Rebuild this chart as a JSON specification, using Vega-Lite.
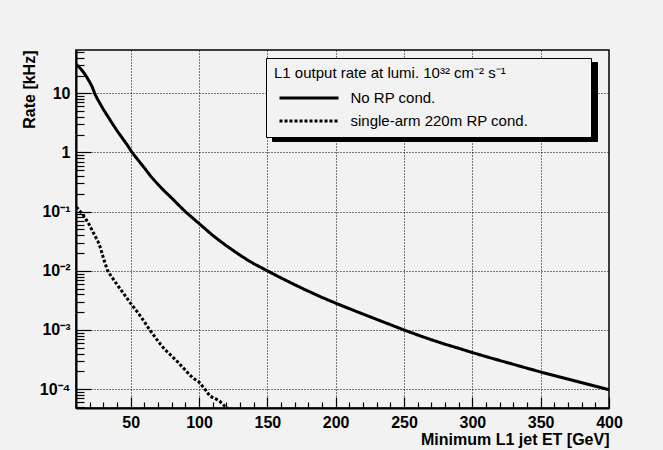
{
  "$schema": "https://vega.github.io/schema/vega-lite/v6.json",
  "width": 533,
  "height": 358,
  "autosize": {"type": "none"},
  "padding": {"left": 76, "top": 50, "right": 54, "bottom": 42},
  "background": "#f2f2f2",
  "config": {
    "font": "Liberation Sans",
    "view": {"stroke": "black", "strokeWidth": 1.5, "fill": null},
    "axis": {
      "domainColor": "black",
      "domainWidth": 2,
      "tickColor": "black",
      "tickWidth": 1.2,
      "gridColor": "black",
      "gridDash": [1, 2],
      "gridWidth": 1,
      "labelColor": "black",
      "labelFont": "Liberation Sans",
      "labelFontWeight": "bold",
      "labelFontSize": 16,
      "titleColor": "black",
      "titleFont": "Liberation Sans",
      "titleFontWeight": "bold",
      "titleFontSize": 16,
      "labelOverlap": false,
      "labelFlush": false
    },
    "legend": {
      "titleFont": "Liberation Sans",
      "titleFontWeight": "normal",
      "titleFontSize": 15,
      "titleColor": "black",
      "titlePadding": 8,
      "titleLimit": 600,
      "labelFont": "Liberation Sans",
      "labelFontSize": 15,
      "labelColor": "black",
      "labelLimit": 600,
      "labelOffset": 32.5,
      "symbolType": "M-4,0H4",
      "symbolSize": 217.6,
      "symbolOffset": 26,
      "symbolStrokeWidth": 3,
      "symbolStrokeColor": "black",
      "symbolFillColor": "transparent",
      "rowPadding": 6,
      "padding": 8
    }
  },
  "data": {
    "values": [
      {"et": 10, "rate": 30.9, "series": "No RP cond."},
      {"et": 12, "rate": 28.2, "series": "No RP cond."},
      {"et": 14, "rate": 25.1, "series": "No RP cond."},
      {"et": 16, "rate": 21.9, "series": "No RP cond."},
      {"et": 18, "rate": 18.6, "series": "No RP cond."},
      {"et": 20, "rate": 15.5, "series": "No RP cond."},
      {"et": 22, "rate": 12.6, "series": "No RP cond."},
      {"et": 24, "rate": 9.55, "series": "No RP cond."},
      {"et": 26, "rate": 7.76, "series": "No RP cond."},
      {"et": 28, "rate": 6.46, "series": "No RP cond."},
      {"et": 30, "rate": 5.37, "series": "No RP cond."},
      {"et": 33, "rate": 4.17, "series": "No RP cond."},
      {"et": 36, "rate": 3.24, "series": "No RP cond."},
      {"et": 40, "rate": 2.34, "series": "No RP cond."},
      {"et": 44, "rate": 1.74, "series": "No RP cond."},
      {"et": 48, "rate": 1.29, "series": "No RP cond."},
      {"et": 51, "rate": 1.0, "series": "No RP cond."},
      {"et": 55, "rate": 0.767, "series": "No RP cond."},
      {"et": 60, "rate": 0.55, "series": "No RP cond."},
      {"et": 65, "rate": 0.389, "series": "No RP cond."},
      {"et": 70, "rate": 0.288, "series": "No RP cond."},
      {"et": 75, "rate": 0.219, "series": "No RP cond."},
      {"et": 80, "rate": 0.17, "series": "No RP cond."},
      {"et": 85, "rate": 0.13, "series": "No RP cond."},
      {"et": 90, "rate": 0.1, "series": "No RP cond."},
      {"et": 95, "rate": 0.0794, "series": "No RP cond."},
      {"et": 100, "rate": 0.0631, "series": "No RP cond."},
      {"et": 105, "rate": 0.0501, "series": "No RP cond."},
      {"et": 110, "rate": 0.0398, "series": "No RP cond."},
      {"et": 115, "rate": 0.0324, "series": "No RP cond."},
      {"et": 120, "rate": 0.0266, "series": "No RP cond."},
      {"et": 125, "rate": 0.0221, "series": "No RP cond."},
      {"et": 130, "rate": 0.0184, "series": "No RP cond."},
      {"et": 135, "rate": 0.0155, "series": "No RP cond."},
      {"et": 140, "rate": 0.0132, "series": "No RP cond."},
      {"et": 145, "rate": 0.0115, "series": "No RP cond."},
      {"et": 150, "rate": 0.01, "series": "No RP cond."},
      {"et": 160, "rate": 0.00759, "series": "No RP cond."},
      {"et": 170, "rate": 0.00582, "series": "No RP cond."},
      {"et": 180, "rate": 0.00452, "series": "No RP cond."},
      {"et": 190, "rate": 0.00355, "series": "No RP cond."},
      {"et": 200, "rate": 0.00284, "series": "No RP cond."},
      {"et": 210, "rate": 0.00229, "series": "No RP cond."},
      {"et": 220, "rate": 0.00186, "series": "No RP cond."},
      {"et": 230, "rate": 0.00151, "series": "No RP cond."},
      {"et": 240, "rate": 0.00123, "series": "No RP cond."},
      {"et": 250, "rate": 0.001, "series": "No RP cond."},
      {"et": 260, "rate": 0.000822, "series": "No RP cond."},
      {"et": 270, "rate": 0.000684, "series": "No RP cond."},
      {"et": 280, "rate": 0.000575, "series": "No RP cond."},
      {"et": 290, "rate": 0.00049, "series": "No RP cond."},
      {"et": 300, "rate": 0.000415, "series": "No RP cond."},
      {"et": 310, "rate": 0.000355, "series": "No RP cond."},
      {"et": 320, "rate": 0.000305, "series": "No RP cond."},
      {"et": 330, "rate": 0.000263, "series": "No RP cond."},
      {"et": 340, "rate": 0.000226, "series": "No RP cond."},
      {"et": 350, "rate": 0.000195, "series": "No RP cond."},
      {"et": 360, "rate": 0.00017, "series": "No RP cond."},
      {"et": 370, "rate": 0.000148, "series": "No RP cond."},
      {"et": 380, "rate": 0.000129, "series": "No RP cond."},
      {"et": 390, "rate": 0.000112, "series": "No RP cond."},
      {"et": 400, "rate": 0.0000977, "series": "No RP cond."},
      {"et": 10, "rate": 0.117, "series": "single-arm 220m RP cond."},
      {"et": 11, "rate": 0.115, "series": "single-arm 220m RP cond."},
      {"et": 15, "rate": 0.0891, "series": "single-arm 220m RP cond."},
      {"et": 19, "rate": 0.0646, "series": "single-arm 220m RP cond."},
      {"et": 23, "rate": 0.0427, "series": "single-arm 220m RP cond."},
      {"et": 26, "rate": 0.0316, "series": "single-arm 220m RP cond."},
      {"et": 28, "rate": 0.024, "series": "single-arm 220m RP cond."},
      {"et": 30, "rate": 0.0166, "series": "single-arm 220m RP cond."},
      {"et": 33, "rate": 0.0102, "series": "single-arm 220m RP cond."},
      {"et": 36, "rate": 0.00794, "series": "single-arm 220m RP cond."},
      {"et": 40, "rate": 0.00589, "series": "single-arm 220m RP cond."},
      {"et": 45, "rate": 0.00407, "series": "single-arm 220m RP cond."},
      {"et": 50, "rate": 0.00282, "series": "single-arm 220m RP cond."},
      {"et": 55, "rate": 0.002, "series": "single-arm 220m RP cond."},
      {"et": 60, "rate": 0.00138, "series": "single-arm 220m RP cond."},
      {"et": 64, "rate": 0.001, "series": "single-arm 220m RP cond."},
      {"et": 70, "rate": 0.000646, "series": "single-arm 220m RP cond."},
      {"et": 75, "rate": 0.000468, "series": "single-arm 220m RP cond."},
      {"et": 80, "rate": 0.000363, "series": "single-arm 220m RP cond."},
      {"et": 84, "rate": 0.000295, "series": "single-arm 220m RP cond."},
      {"et": 90, "rate": 0.000209, "series": "single-arm 220m RP cond."},
      {"et": 95, "rate": 0.000158, "series": "single-arm 220m RP cond."},
      {"et": 100, "rate": 0.000132, "series": "single-arm 220m RP cond."},
      {"et": 105, "rate": 0.0000955, "series": "single-arm 220m RP cond."},
      {"et": 108, "rate": 0.0000759, "series": "single-arm 220m RP cond."},
      {"et": 112, "rate": 0.0000692, "series": "single-arm 220m RP cond."},
      {"et": 115, "rate": 0.0000631, "series": "single-arm 220m RP cond."},
      {"et": 119, "rate": 0.0000513, "series": "single-arm 220m RP cond."},
      {"et": 121, "rate": 0.0000479, "series": "single-arm 220m RP cond."}
    ]
  },
  "layer": [
    {
      "mark": {"type": "line", "clip": true, "strokeWidth": 3, "color": "black"},
      "encoding": {
        "x": {
          "field": "et",
          "type": "quantitative",
          "scale": {"domain": [10, 400], "nice": false, "zero": false},
          "axis": {
            "orient": "bottom",
            "title": "Minimum L1 jet ET [GeV]",
            "titleAnchor": "end",
            "titlePadding": 1,
            "values": [50, 100, 150, 200, 250, 300, 350, 400],
            "labelPadding": 17,
            "tickSize": -11,
            "gridOpacity": {"condition": {"test": "datum.value < 400", "value": 1}, "value": 0}
          }
        },
        "y": {
          "field": "rate",
          "type": "quantitative",
          "scale": {"type": "log", "domain": [0.000048, 54], "nice": false},
          "axis": {
            "orient": "left",
            "title": "Rate [kHz]",
            "titleAnchor": "end",
            "titlePadding": 2,
            "values": [0.0001, 0.001, 0.01, 0.1, 1, 10],
            "labelExpr": "datum.value >= 1 ? (datum.value >= 5 ? '10' : '1') : '10' + ['⁻¹','⁻²','⁻³','⁻⁴','⁻⁵'][round(-log(datum.value)/LN10) - 1]",
            "labelPadding": 21,
            "tickSize": -15
          }
        },
        "strokeDash": {
          "field": "series",
          "type": "nominal",
          "scale": {"domain": ["No RP cond.", "single-arm 220m RP cond."], "range": [[1, 0], [3, 2]]},
          "legend": {
            "orient": "none",
            "legendX": 190,
            "legendY": 8,
            "zindex": 2,
            "title": "L1 output rate at lumi. 10³² cm⁻² s⁻¹",
            "labelExpr": "datum.label + '\u00a0\u00a0\u00a0\u00a0\u00a0\u00a0\u00a0\u00a0\u00a0\u00a0\u00a0\u00a0\u00a0\u200b'",
            "fillColor": "#f2f2f2",
            "strokeColor": "black"
          }
        },
        "opacity": {
          "field": "series",
          "type": "nominal",
          "scale": {"domain": ["No RP cond.", "single-arm 220m RP cond."], "range": [1, 1]},
          "legend": {
            "orient": "top-right",
            "offset": 12,
            "zindex": 1,
            "title": "L1 output rate at lumi. 10³² cm⁻² s⁻¹",
            "labelExpr": "datum.label + '\u00a0\u00a0\u00a0\u00a0\u00a0\u00a0\u00a0\u00a0\u00a0\u00a0\u00a0\u00a0\u00a0\u200b'",
            "labelOpacity": 0,
            "titleOpacity": 0,
            "fillColor": "black",
            "strokeColor": "black"
          }
        }
      }
    },
    {
      "mark": {"type": "line", "clip": true, "opacity": 0},
      "encoding": {
        "x": {
          "field": "et",
          "type": "quantitative",
          "scale": {"domain": [10, 400], "nice": false, "zero": false},
          "axis": {
            "orient": "bottom",
            "title": null,
            "values": [10, 20, 30, 40, 60, 70, 80, 90, 110, 120, 130, 140, 160, 170, 180, 190, 210, 220, 230, 240, 260, 270, 280, 290, 310, 320, 330, 340, 360, 370, 380, 390],
            "labels": false,
            "grid": false,
            "domain": false,
            "tickSize": -6
          }
        },
        "y": {
          "field": "rate",
          "type": "quantitative",
          "scale": {"type": "log", "domain": [0.000048, 54], "nice": false},
          "axis": {
            "orient": "left",
            "title": null,
            "values": [0.00005, 0.00006, 0.00007, 0.00008, 0.00009, 0.0002, 0.0003, 0.0004, 0.0005, 0.0006, 0.0007, 0.0008, 0.0009, 0.002, 0.003, 0.004, 0.005, 0.006, 0.007, 0.008, 0.009, 0.02, 0.03, 0.04, 0.05, 0.06, 0.07, 0.08, 0.09, 0.2, 0.3, 0.4, 0.5, 0.6, 0.7, 0.8, 0.9, 2, 3, 4, 5, 6, 7, 8, 9, 20, 30, 40, 50],
            "labels": false,
            "grid": false,
            "domain": false,
            "tickSize": -8
          }
        },
        "detail": {"field": "series", "type": "nominal"}
      }
    }
  ],
  "resolve": {"axis": {"x": "independent", "y": "independent"}}
}
